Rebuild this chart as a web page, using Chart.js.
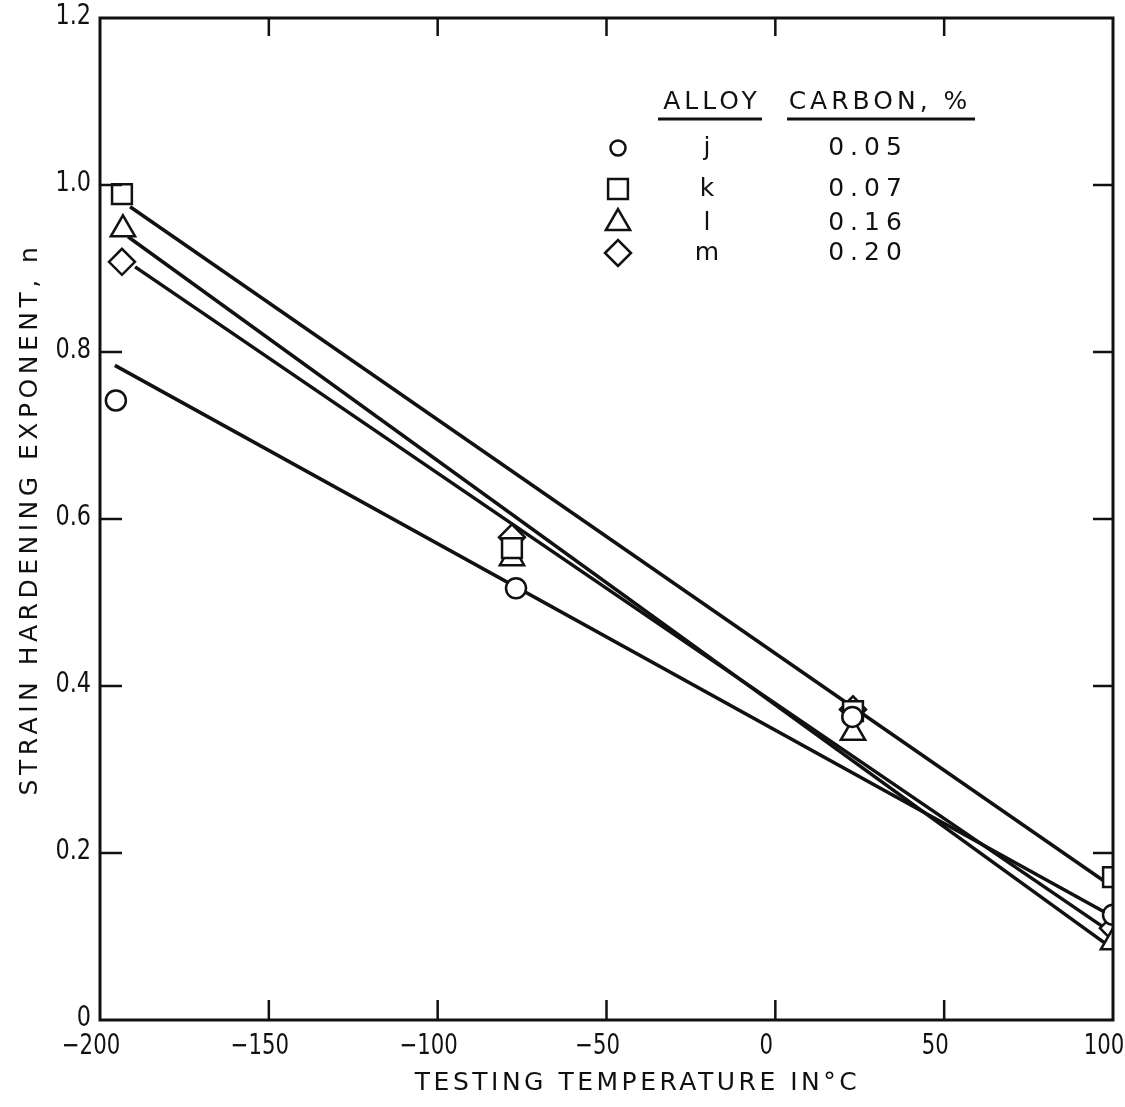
<!DOCTYPE html>
<html>
<head>
  <meta charset="UTF-8" />
  <title>Strain hardening exponent vs temperature</title>
  <script src="https://cdn.jsdelivr.net/npm/chart.js"></script>
  <style>
    html, body { margin: 0; padding: 0; background: #fff; }
    #wrap { width: 1125px; height: 1107px; }
  </style>
</head>
<body>
  <div id="wrap"><canvas id="nChart" width="1125" height="1107"></canvas></div>

  <script>
    // measured points (temperature in C, exponent n)
    const tempsJ = [-195.3, -76.8, 22.8, 100];
    const nJ = [0.742, 0.517, 0.363, 0.126];
    const tempsK = [-193.5, -78, 23, 100];
    const nK = [0.989, 0.565, 0.37, 0.171];
    const tempsL = [-193.2, -78, 23, 100];
    const nL = [0.947, 0.553, 0.344, 0.093];
    const tempsM = [-193.5, -78, 23, 100];
    const nM = [0.908, 0.578, 0.372, 0.11];

    // hand-fitted straight lines, end points
    const fitTempsJ = [-195.6, 97.6];
    const fitJ = [0.784, 0.129];
    const fitTempsK = [-191.1, 98.2];
    const fitK = [0.974, 0.164];
    const fitTempsL = [-191.7, 97.6];
    const fitL = [0.938, 0.092];
    const fitTempsM = [-189.6, 97.6];
    const fitM = [0.902, 0.110];

    // legend table
    const alloyNames = ['j', 'k', 'l', 'm'];
    const carbonPct = ['0.05', '0.07', '0.16', '0.20'];
    const markerStyles = ['circle', 'rect', 'triangle', 'rectRot'];

    // axes
    const xTitle = 'TESTING TEMPERATURE IN\u00b0C';
    const yTitle = 'STRAIN HARDENING EXPONENT, n';
    const xTickValues = [-200, -150, -100, -50, 0, 50, 100];
    const xTickLabels = ['\u2212200', '\u2212150', '\u2212100', '\u221250', '0', '50', '100'];
    const yTickValues = [0, 0.2, 0.4, 0.6, 0.8, 1.0, 1.2];
    const yTickLabels = ['0', '0.2', '0.4', '0.6', '0.8', '1.0', '1.2'];
    const xInnerTicks = [-150, -100, -50, 0, 50];
    const yInnerTicks = [0.2, 0.4, 0.6, 0.8, 1.0];

    const INK = '#111';
    const FONT = "'DejaVu Sans', sans-serif";

    const toXY = (xs, ys) => xs.map((x, i) => ({ x: x, y: ys[i] }));

    function markerSet(label, xs, ys, style, r) {
      return {
        type: 'scatter',
        label: label,
        data: toXY(xs, ys),
        pointStyle: style,
        pointRadius: r,
        pointHoverRadius: r,
        pointBackgroundColor: '#fff',
        pointBorderColor: INK,
        pointBorderWidth: 2.5,
        showLine: false,
        clip: 0,
        order: 0
      };
    }

    function fitSet(label, xs, ys) {
      return {
        type: 'line',
        label: label,
        data: toXY(xs, ys),
        borderColor: INK,
        borderWidth: 3.5,
        pointRadius: 0,
        fill: false,
        tension: 0,
        order: 1
      };
    }

    // box frame with inward ticks on all four sides
    const frameTicks = {
      id: 'frameTicks',
      afterDatasetsDraw(chart) {
        const { ctx, chartArea: a, scales: { x, y } } = chart;
        ctx.save();
        ctx.strokeStyle = INK;
        ctx.lineWidth = 3;
        ctx.strokeRect(a.left, a.top, a.right - a.left, a.bottom - a.top);
        ctx.lineWidth = 2.5;
        ctx.beginPath();
        xInnerTicks.forEach(v => {
          const px = x.getPixelForValue(v);
          ctx.moveTo(px, a.bottom); ctx.lineTo(px, a.bottom - 20);
          ctx.moveTo(px, a.top); ctx.lineTo(px, a.top + 18);
        });
        yInnerTicks.forEach(v => {
          const py = y.getPixelForValue(v);
          ctx.moveTo(a.left, py); ctx.lineTo(a.left + 22, py);
          ctx.moveTo(a.right, py); ctx.lineTo(a.right - 20, py);
        });
        ctx.stroke();
        ctx.restore();
      }
    };

    // narrow hand-lettered tick numbers, placed by the scales
    const tickNumbers = {
      id: 'tickNumbers',
      afterDraw(chart) {
        const { ctx, chartArea: a, scales: { x, y } } = chart;
        ctx.save();
        ctx.fillStyle = INK;
        ctx.font = '28px ' + FONT;
        ctx.textBaseline = 'middle';
        ctx.textAlign = 'center';
        xTickValues.forEach((v, i) => {
          ctx.save();
          ctx.translate(x.getPixelForValue(v) - 9, a.bottom + 27);
          ctx.scale(0.76, 1);
          ctx.fillText(xTickLabels[i], 0, 0);
          ctx.restore();
        });
        ctx.textAlign = 'right';
        yTickValues.forEach((v, i) => {
          ctx.save();
          ctx.translate(a.left - 9, y.getPixelForValue(v) - 1);
          ctx.scale(0.8, 1);
          ctx.fillText(yTickLabels[i], 0, 0);
          ctx.restore();
        });
        ctx.restore();
      }
    };

    // spaced-out axis titles, lettered like the original
    const axisTitles = {
      id: 'axisTitles',
      afterDraw(chart) {
        const { ctx, chartArea: a } = chart;
        ctx.save();
        ctx.fillStyle = INK;
        ctx.font = '25px ' + FONT;
        ctx.letterSpacing = '3.5px';
        ctx.textAlign = 'center';
        ctx.textBaseline = 'middle';
        ctx.fillText(xTitle, (a.left + a.right) / 2 + 31, 1083);
        ctx.translate(30, (a.top + a.bottom) / 2);
        ctx.rotate(-Math.PI / 2);
        ctx.letterSpacing = '4.5px';
        ctx.fillText(yTitle, 0, 0);
        ctx.restore();
      }
    };

    // ALLOY / CARBON table in the upper right
    const alloyTable = {
      id: 'alloyTable',
      afterDraw(chart) {
        const { ctx, chartArea: a } = chart;
        const ox = a.left, oy = a.top;
        const colMark = ox + 518, colAlloy = ox + 607, colCarbon = ox + 768;
        const rowY = [130, 171, 205, 235];
        ctx.save();
        ctx.fillStyle = INK;
        ctx.strokeStyle = INK;
        ctx.font = '25px ' + FONT;
        ctx.textBaseline = 'middle';
        ctx.textAlign = 'center';
        ctx.letterSpacing = '4px';
        ctx.fillText('ALLOY', ox + 612, oy + 84);
        ctx.fillText('CARBON, %', ox + 780, oy + 84);
        ctx.lineWidth = 3;
        ctx.beginPath();
        ctx.moveTo(ox + 558, oy + 101); ctx.lineTo(ox + 662, oy + 101);
        ctx.moveTo(ox + 687, oy + 101); ctx.lineTo(ox + 875, oy + 101);
        ctx.stroke();
        const sizes = [7.5, 14, 14, 13];
        alloyNames.forEach((name, i) => {
          const cy = oy + rowY[i];
          ctx.fillStyle = INK;
          ctx.letterSpacing = '0px';
          ctx.fillText(name, colAlloy, cy);
          ctx.letterSpacing = '6px';
          ctx.fillText(carbonPct[i], colCarbon, cy);
          ctx.lineWidth = 2.5;
          ctx.fillStyle = '#fff';
          Chart.helpers.drawPoint(ctx, { pointStyle: markerStyles[i], radius: sizes[i], rotation: 0, borderWidth: 2.5 }, colMark, cy);
        });
        ctx.restore();
      }
    };

    new Chart(document.getElementById('nChart'), {
      data: {
        datasets: [
          markerSet('j', tempsJ, nJ, markerStyles[0], 10),
          markerSet('k', tempsK, nK, markerStyles[1], 14),
          markerSet('l', tempsL, nL, markerStyles[2], 14),
          markerSet('m', tempsM, nM, markerStyles[3], 13),
          fitSet('fit j', fitTempsJ, fitJ),
          fitSet('fit k', fitTempsK, fitK),
          fitSet('fit l', fitTempsL, fitL),
          fitSet('fit m', fitTempsM, fitM)
        ]
      },
      options: {
        responsive: false,
        animation: false,
        layout: { autoPadding: false, padding: { top: 18, right: 12, left: 0, bottom: 0 } },
        plugins: {
          legend: { display: false },
          tooltip: { enabled: false }
        },
        scales: {
          x: {
            type: 'linear',
            min: -200,
            max: 100,
            grid: { display: false, drawTicks: false },
            border: { display: false },
            ticks: { display: false, stepSize: 50 },
            afterFit: s => {
              s.height = 87;
              s.paddingLeft = 0;
              s.paddingRight = 0;
            }
          },
          y: {
            type: 'linear',
            min: 0,
            max: 1.2,
            grid: { display: false, drawTicks: false },
            border: { display: false },
            ticks: { display: false, stepSize: 0.2 },
            afterFit: s => {
              s.width = 100;
              s.paddingTop = 0;
              s.paddingBottom = 0;
            }
          }
        }
      },
      plugins: [frameTicks, tickNumbers, axisTitles, alloyTable]
    });
  </script>
</body>
</html>
